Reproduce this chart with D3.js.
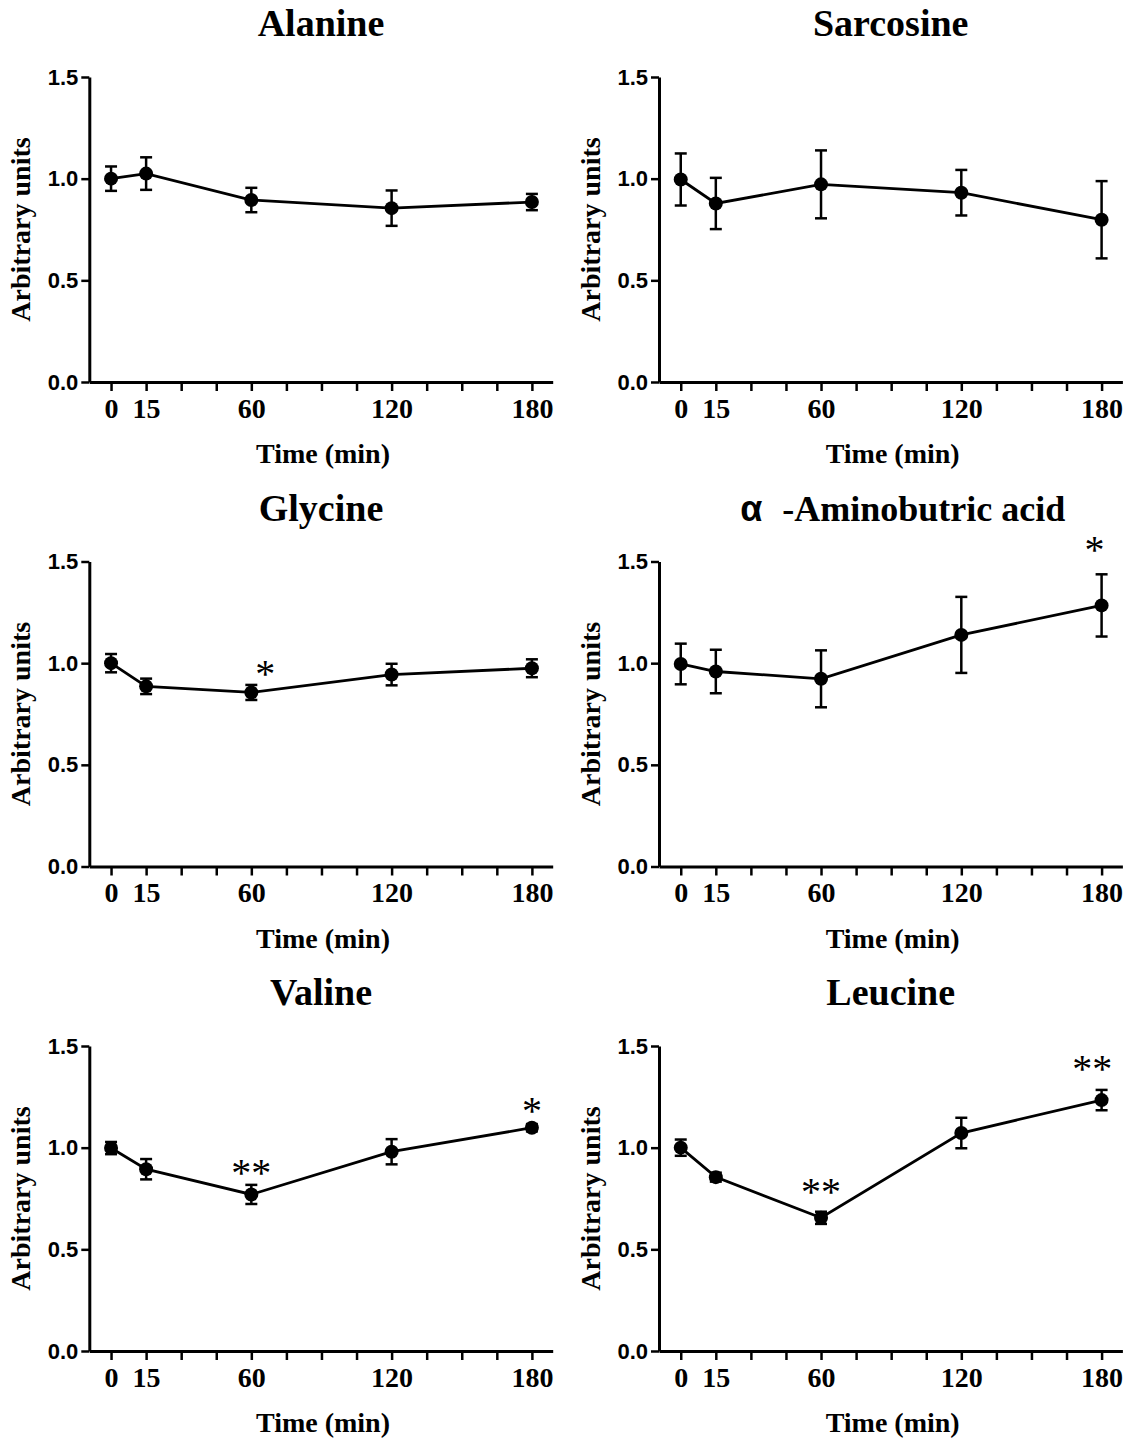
<!DOCTYPE html>
<html>
<head>
<meta charset="utf-8">
<script src="https://cdn.jsdelivr.net/npm/d3@7"></script>
<style>
  body { margin: 0; background: #fff; }
  svg { display: block; }
</style>
</head>
<body>
<svg id="chart" width="1131" height="1445"></svg>
<script>
// sampling times (min)
const times = [0, 15, 60, 120, 180]
const xTicks = [0, 15, 30, 45, 60, 75, 90, 105, 120, 135, 150, 165, 180]
const xLabels = [0, 15, 60, 120, 180]
const yTicks = [0, 0.5, 1.0, 1.5]

// mean and error (arbitrary units)
const alanineMean = [1.00, 1.025, 0.895, 0.855, 0.885]
const alanineErr = [0.06, 0.08, 0.06, 0.087, 0.04]

const sarcosineMean = [0.996, 0.878, 0.972, 0.931, 0.798]
const sarcosineErr = [0.128, 0.126, 0.167, 0.112, 0.19]

const glycineMean = [1.0, 0.886, 0.856, 0.944, 0.975]
const glycineErr = [0.045, 0.038, 0.037, 0.053, 0.044]

const abaMean = [0.996, 0.959, 0.923, 1.139, 1.284]
const abaErr = [0.10, 0.107, 0.14, 0.187, 0.153]

const valineMean = [0.998, 0.894, 0.77, 0.98, 1.098]
const valineErr = [0.03, 0.05, 0.047, 0.062, 0.018]

const leucineMean = [1.0, 0.855, 0.655, 1.072, 1.234]
const leucineErr = [0.04, 0.022, 0.03, 0.075, 0.05]

// significance marks: time, height (units), text
const glycineStars = [{ t: 66, y: 0.972, text: '*' }]
const abaStars = [{ t: 177, y: 1.583, text: '*' }]
const valineStars = [{ t: 60, y: 0.902, text: '**' }, { t: 180, y: 1.206, text: '*' }]
const leucineStars = [{ t: 60, y: 0.806, text: '**' }, { t: 176, y: 1.41, text: '**' }]

const panels = [
  { title: 'Alanine', mean: alanineMean, err: alanineErr, stars: [] },
  { title: 'Sarcosine', mean: sarcosineMean, err: sarcosineErr, stars: [] },
  { title: 'Glycine', mean: glycineMean, err: glycineErr, stars: glycineStars },
  { title: '-Aminobutric acid', greek: 'α', mean: abaMean, err: abaErr, stars: abaStars },
  { title: 'Valine', mean: valineMean, err: valineErr, stars: valineStars },
  { title: 'Leucine', mean: leucineMean, err: leucineErr, stars: leucineStars }
]

const serif = '"Liberation Serif", "Times New Roman", serif'
const sans = '"Liberation Sans", Arial, sans-serif'

const svg = d3.select('#chart')

const colX = [89.3, 659]
const rowBottom = [382, 866.5, 1351]
const plotW = 463.4
const plotH = 305

panels.forEach((p, i) => {
  const col = i % 2
  const row = Math.floor(i / 2)
  const left = colX[col]
  const bottom = rowBottom[row]
  const top = bottom - plotH

  const x = d3.scaleLinear().domain([-9.3, 188.9]).range([left, left + plotW])
  const y = d3.scaleLinear().domain([0, 1.5]).range([bottom, top])

  const g = svg.append('g')

  // x axis
  const xAxis = g.append('g')
    .attr('transform', `translate(0,${bottom})`)
    .call(d3.axisBottom(x)
      .tickValues(xTicks)
      .tickSize(9)
      .tickSizeOuter(0)
      .tickPadding(7)
      .tickFormat((d) => xLabels.includes(d) ? d : ''))
  xAxis.select('.domain').attr('stroke', '#000').attr('stroke-width', 3)
  xAxis.selectAll('.tick line').attr('stroke', '#000').attr('stroke-width', 2.5)
  xAxis.selectAll('.tick text')
    .attr('fill', '#000')
    .style('font-family', serif)
    .style('font-weight', 'bold')
    .style('font-size', '28px')

  // y axis
  const yAxis = g.append('g')
    .attr('transform', `translate(${left},0)`)
    .call(d3.axisLeft(y)
      .tickValues(yTicks)
      .tickSize(8)
      .tickSizeOuter(0)
      .tickPadding(3)
      .tickFormat(d3.format('.1f')))
  yAxis.select('.domain').attr('stroke', '#000').attr('stroke-width', 3)
  yAxis.selectAll('.tick line').attr('stroke', '#000').attr('stroke-width', 2.5)
  yAxis.selectAll('.tick text')
    .attr('fill', '#000')
    .style('font-family', sans)
    .style('font-weight', 'bold')
    .style('font-size', '22px')

  // titles
  const title = g.append('text')
    .attr('x', left + plotW / 2)
    .attr('y', top - 41)
    .attr('text-anchor', 'middle')
    .style('font-family', serif)
    .style('font-weight', 'bold')
    .style('font-size', '38px')
  if (p.greek) {
    title.attr('x', left + plotW / 2 + 12).style('font-size', '36px')
    title.append('tspan').style('font-family', sans).text(p.greek)
    title.append('tspan').attr('dx', 20).text(p.title)
  } else {
    title.text(p.title)
  }

  g.append('text')
    .attr('x', left + plotW / 2 + 2)
    .attr('y', bottom + 81)
    .attr('text-anchor', 'middle')
    .style('font-family', serif)
    .style('font-weight', 'bold')
    .style('font-size', '28px')
    .text('Time (min)')

  g.append('text')
    .attr('transform', `translate(${left - 59},${(top + bottom) / 2}) rotate(-90)`)
    .attr('text-anchor', 'middle')
    .style('font-family', serif)
    .style('font-weight', 'bold')
    .style('font-size', '28px')
    .text('Arbitrary units')

  const pts = times.map((t, k) => ({ t: t, m: p.mean[k], e: p.err[k] }))

  // error bars
  const eb = g.append('g').selectAll('g').data(pts).enter().append('g')
    .attr('stroke', '#000').attr('stroke-width', 2.5)
  eb.append('line')
    .attr('x1', (d) => x(d.t)).attr('x2', (d) => x(d.t))
    .attr('y1', (d) => y(d.m - d.e)).attr('y2', (d) => y(d.m + d.e))
  eb.append('line')
    .attr('x1', (d) => x(d.t) - 6).attr('x2', (d) => x(d.t) + 6)
    .attr('y1', (d) => y(d.m + d.e)).attr('y2', (d) => y(d.m + d.e))
  eb.append('line')
    .attr('x1', (d) => x(d.t) - 6).attr('x2', (d) => x(d.t) + 6)
    .attr('y1', (d) => y(d.m - d.e)).attr('y2', (d) => y(d.m - d.e))

  // mean line
  g.append('path')
    .datum(pts)
    .attr('fill', 'none')
    .attr('stroke', '#000')
    .attr('stroke-width', 2.8)
    .attr('d', d3.line().x((d) => x(d.t)).y((d) => y(d.m)))

  g.append('g').selectAll('circle').data(pts).enter().append('circle')
    .attr('cx', (d) => x(d.t))
    .attr('cy', (d) => y(d.m))
    .attr('r', 7)
    .attr('fill', '#000')

  // significance
  g.append('g').selectAll('text').data(p.stars).enter().append('text')
    .attr('x', (d) => x(d.t))
    .attr('y', (d) => y(d.y) + 18)
    .attr('text-anchor', 'middle')
    .style('font-family', serif)
    .style('font-size', '40px')
    .text((d) => d.text)
})
</script>
</body>
</html>
